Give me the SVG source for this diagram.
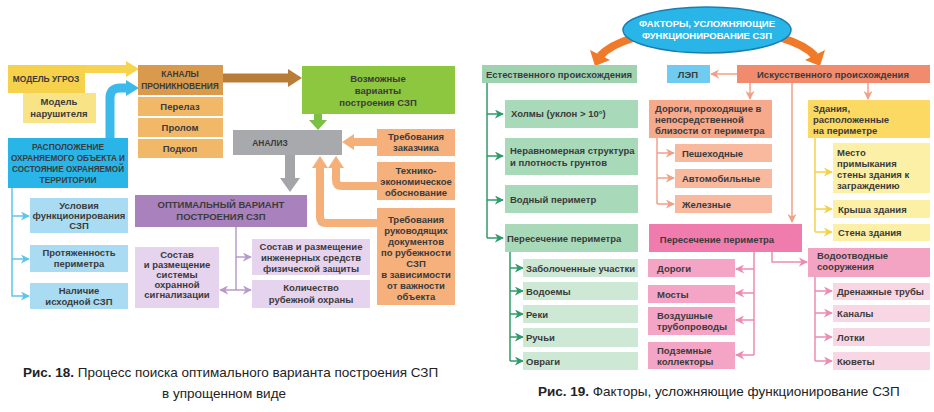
<svg xmlns="http://www.w3.org/2000/svg" width="934" height="412" viewBox="0 0 934 412">
<style>
text{font-family:"Liberation Sans",Arial,sans-serif;font-weight:bold;font-size:9.5px;fill:#3b3b3b;text-anchor:middle}
.l{text-anchor:start}
.w{fill:#fff}
.s{font-size:8.4px}
.cap{font-weight:normal;font-size:13.5px;fill:#222;text-anchor:start}
.ln{fill:none;stroke-width:1.5}
</style>
<defs>
<marker id="mb" viewBox="0 0 10 10" refX="9" refY="5" markerWidth="6" markerHeight="6" orient="auto"><path d="M0,0L10,5L0,10L3,5z" fill="#5cc5ea"/></marker>
<marker id="mp" viewBox="0 0 10 10" refX="9" refY="5" markerWidth="6" markerHeight="6" orient="auto"><path d="M0,0L10,5L0,10L3,5z" fill="#b79ac8"/></marker>
<marker id="mg" viewBox="0 0 10 10" refX="9" refY="5" markerWidth="6" markerHeight="6" orient="auto"><path d="M0,0L10,5L0,10L3,5z" fill="#2f9a6a"/></marker>
<marker id="ms" viewBox="0 0 10 10" refX="9" refY="5" markerWidth="6" markerHeight="6" orient="auto"><path d="M0,0L10,5L0,10L3,5z" fill="#f0a088"/></marker>
<marker id="my" viewBox="0 0 10 10" refX="9" refY="5" markerWidth="6" markerHeight="6" orient="auto"><path d="M0,0L10,5L0,10L3,5z" fill="#f3d24a"/></marker>
<marker id="mk" viewBox="0 0 10 10" refX="9" refY="5" markerWidth="6" markerHeight="6" orient="auto"><path d="M0,0L10,5L0,10L3,5z" fill="#ee8ab2"/></marker>
</defs>

<g id="connectors">
<path d="M85,69H128" stroke="#f7d34f" stroke-width="8" fill="none"/><path d="M126,61L139,69L126,77z" fill="#f7d34f"/>
<path d="M110,140V98Q110,88 120,88H128" stroke="#3ab9ea" stroke-width="9" fill="none"/><path d="M126,80L139,88L126,96z" fill="#3ab9ea"/>
<path d="M223,78H290" stroke="#b97d3a" stroke-width="9" fill="none"/><path d="M288,69L302,78L288,87z" fill="#b97d3a"/>
<path d="M318,114V121" stroke="#7bc043" stroke-width="8" fill="none"/><path d="M309,120L318,130L327,120z" fill="#7bc043"/>
<path d="M290,155V180" stroke="#a3a5a8" stroke-width="10" fill="none"/><path d="M280,178L290,192L300,178z" fill="#a3a5a8"/>
<path d="M377,142H352" stroke="#f5b07a" stroke-width="8" fill="none"/><path d="M354,134L342,142L354,150z" fill="#f5b07a"/>
<path d="M377,186H342Q336,186 336,180V166" stroke="#f5b07a" stroke-width="8" fill="none"/><path d="M328,168L336,156L344,168z" fill="#f5b07a"/>
<path d="M377,223H326Q320,223 320,217V166" stroke="#f5b07a" stroke-width="8" fill="none"/><path d="M312,168L320,156L328,168z" fill="#f5b07a"/>
<path class="ln" stroke="#5cc5ea" d="M12,188V296H29" marker-end="url(#mb)"/>
<path class="ln" stroke="#5cc5ea" d="M12,216H29" marker-end="url(#mb)"/><path class="ln" stroke="#5cc5ea" d="M12,259H29" marker-end="url(#mb)"/>
<path class="ln" stroke="#b79ac8" d="M236,226V290"/>
<path class="ln" stroke="#b79ac8" d="M236,257H251" marker-end="url(#mp)"/>
<path class="ln" stroke="#b79ac8" d="M236,290H251" marker-end="url(#mp)"/>
<path class="ln" stroke="#b79ac8" d="M236,290H220" marker-end="url(#mp)"/>
<path d="M633,38Q610,45 600,56" stroke="#f07a2a" stroke-width="8" fill="none"/><path d="M590,50L595,66L610,60z" fill="#f07a2a"/>
<path d="M782,38Q805,45 815,56" stroke="#f07a2a" stroke-width="8" fill="none"/><path d="M825,50L820,66L805,60z" fill="#f07a2a"/>
<path class="ln" stroke="#2f9a6a" d="M487,83V238"/>
<path class="ln" stroke="#2f9a6a" d="M487,114H503" marker-end="url(#mg)"/>
<path class="ln" stroke="#2f9a6a" d="M487,156H503" marker-end="url(#mg)"/>
<path class="ln" stroke="#2f9a6a" d="M487,200H503" marker-end="url(#mg)"/>
<path class="ln" stroke="#2f9a6a" d="M487,238H503" marker-end="url(#mg)"/>
<path class="ln" stroke="#2f9a6a" d="M510,252V361"/>
<path class="ln" stroke="#2f9a6a" d="M510,268H523" marker-end="url(#mg)"/>
<path class="ln" stroke="#2f9a6a" d="M510,291H523" marker-end="url(#mg)"/>
<path class="ln" stroke="#2f9a6a" d="M510,314H523" marker-end="url(#mg)"/>
<path class="ln" stroke="#2f9a6a" d="M510,337H523" marker-end="url(#mg)"/>
<path class="ln" stroke="#2f9a6a" d="M510,361H523" marker-end="url(#mg)"/>
<path class="ln" stroke="#f0a088" d="M737,74H711" marker-end="url(#ms)"/>
<path class="ln" stroke="#f0a088" d="M750,83V99" marker-end="url(#ms)"/>
<path class="ln" stroke="#f0a088" d="M868,83V99" marker-end="url(#ms)"/>
<path class="ln" stroke="#f0a088" d="M792,83V222" marker-end="url(#ms)"/>
<path class="ln" stroke="#f0a088" d="M657,138V204"/>
<path class="ln" stroke="#f0a088" d="M657,153H674" marker-end="url(#ms)"/>
<path class="ln" stroke="#f0a088" d="M657,178H674" marker-end="url(#ms)"/>
<path class="ln" stroke="#f0a088" d="M657,204H674" marker-end="url(#ms)"/>
<path class="ln" stroke="#f3d24a" d="M815,138V232"/>
<path class="ln" stroke="#f3d24a" d="M815,172H832" marker-end="url(#my)"/>
<path class="ln" stroke="#f3d24a" d="M815,209H832" marker-end="url(#my)"/>
<path class="ln" stroke="#f3d24a" d="M815,232H832" marker-end="url(#my)"/>
<path class="ln" stroke="#ee8ab2" d="M772,252V262H807" marker-end="url(#mk)"/>
<path class="ln" stroke="#ee8ab2" d="M754,252V355"/>
<path class="ln" stroke="#ee8ab2" d="M754,269H736" marker-end="url(#mk)"/>
<path class="ln" stroke="#ee8ab2" d="M754,293H736" marker-end="url(#mk)"/>
<path class="ln" stroke="#ee8ab2" d="M754,320H736" marker-end="url(#mk)"/>
<path class="ln" stroke="#ee8ab2" d="M754,355H736" marker-end="url(#mk)"/>
<path class="ln" stroke="#ee8ab2" d="M815,277V361"/>
<path class="ln" stroke="#ee8ab2" d="M815,291H832" marker-end="url(#mk)"/>
<path class="ln" stroke="#ee8ab2" d="M815,313H832" marker-end="url(#mk)"/>
<path class="ln" stroke="#ee8ab2" d="M815,337H832" marker-end="url(#mk)"/>
<path class="ln" stroke="#ee8ab2" d="M815,361H832" marker-end="url(#mk)"/>
</g>

<g id="n-ugroz"><rect x="8" y="65" width="77" height="28" fill="#f6d24c"/><text class="s" x="46" y="82">МОДЕЛЬ УГРОЗ</text></g>
<g id="n-narush"><rect x="23" y="93" width="73" height="30" fill="#f9e387"/><text x="59" y="105">Модель</text><text x="59" y="117">нарушителя</text></g>
<g id="n-kanaly"><rect x="138" y="65" width="85" height="30" fill="#d99a4e"/><text class="s" x="180" y="77">КАНАЛЫ</text><text class="s" x="180" y="89">ПРОНИКНОВЕНИЯ</text></g>
<g id="n-perelaz"><rect x="138" y="97" width="85" height="19" fill="#f1b868"/><text x="180" y="110">Перелаз</text></g>
<g id="n-prolom"><rect x="138" y="118" width="85" height="19" fill="#f1b868"/><text x="180" y="131">Пролом</text></g>
<g id="n-podkop"><rect x="138" y="139" width="85" height="19" fill="#f1b868"/><text x="180" y="152">Подкоп</text></g>
<g id="n-vozm"><rect x="302" y="66" width="153" height="48" fill="#8dc63f"/><text x="378" y="82">Возможные</text><text x="378" y="94">варианты</text><text x="378" y="106">построения СЗП</text></g>
<g id="n-analiz"><rect x="233" y="130" width="109" height="25" fill="#a7a9ac"/><text class="s" x="270" y="146">АНАЛИЗ</text></g>
<g id="n-raspol"><rect x="8" y="138" width="120" height="50" fill="#29b5e8"/><text class="s" x="68" y="150">РАСПОЛОЖЕНИЕ</text><text class="s" x="68" y="161" textLength="114" lengthAdjust="spacingAndGlyphs">ОХРАНЯЕМОГО ОБЪЕКТА И</text><text class="s" x="68" y="172" textLength="112" lengthAdjust="spacingAndGlyphs">СОСТОЯНИЕ ОХРАНЯЕМОЙ</text><text class="s" x="68" y="183">ТЕРРИТОРИИ</text></g>
<g id="n-uslov"><rect x="30" y="198" width="98" height="35" fill="#a9dcf3"/><text x="79" y="209">Условия</text><text x="79" y="219">функционирования</text><text x="79" y="229">СЗП</text></g>
<g id="n-protyazh"><rect x="30" y="245" width="98" height="27" fill="#a9dcf3"/><text x="79" y="256">Протяженность</text><text x="79" y="267">периметра</text></g>
<g id="n-nalich"><rect x="30" y="283" width="98" height="26" fill="#a9dcf3"/><text x="79" y="294">Наличие</text><text x="79" y="305">исходной СЗП</text></g>
<g id="n-optim"><rect x="135" y="195" width="172" height="32" fill="#a982bd"/><text x="221" y="208">ОПТИМАЛЬНЫЙ ВАРИАНТ</text><text x="221" y="220">ПОСТРОЕНИЯ СЗП</text></g>
<g id="n-sost1"><rect x="135" y="247" width="84" height="61" fill="#e6d3ee"/><text x="177" y="258">Состав</text><text x="177" y="268">и размещение</text><text x="177" y="278">системы</text><text x="177" y="288">охранной</text><text x="177" y="298">сигнализации</text></g>
<g id="n-sost2"><rect x="252" y="239" width="118" height="36" fill="#e6d3ee"/><text x="311" y="250">Состав и размещение</text><text x="311" y="261">инженерных средств</text><text x="311" y="272">физической защиты</text></g>
<g id="n-kolich"><rect x="252" y="280" width="118" height="28" fill="#e6d3ee"/><text x="311" y="291">Количество</text><text x="311" y="303">рубежной охраны</text></g>
<g id="n-treb1"><rect x="377" y="129" width="78" height="27" fill="#f6b07b"/><text x="416" y="140">Требования</text><text x="416" y="151">заказчика</text></g>
<g id="n-tekh"><rect x="377" y="162" width="78" height="38" fill="#f6b07b"/><text x="416" y="174">Технико-</text><text x="416" y="185">экономическое</text><text x="416" y="196">обоснование</text></g>
<g id="n-treb2"><rect x="377" y="208" width="78" height="97" fill="#f6b07b"/><text x="416" y="223">Требования</text><text x="416" y="234">руководящих</text><text x="416" y="245">документов</text><text x="416" y="256">по рубежности</text><text x="416" y="267">СЗП</text><text x="416" y="278">в зависимости</text><text x="416" y="289">от важности</text><text x="416" y="300">объекта</text></g>
<text class="cap" x="23" y="377"><tspan font-weight="bold">Рис. 18.</tspan> Процесс поиска оптимального варианта построения СЗП</text>
<text class="cap" x="162" y="398">в упрощенном виде</text>

<g id="n-factors"><ellipse cx="707" cy="30" rx="84" ry="23" fill="#29b5e8" stroke="#1a7fb0" stroke-width="1.5"/><text class="w" x="707" y="27">ФАКТОРЫ, УСЛОЖНЯЮЩИЕ</text><text class="w" x="707" y="39">ФУНКЦИОНИРОВАНИЕ СЗП</text></g>
<g id="n-estest"><rect x="482" y="65" width="155" height="18" fill="#9fd3b0"/><text x="559" y="78">Естественного происхождения</text></g>
<g id="n-holmy"><rect x="505" y="100" width="133" height="28" fill="#a8d9b9"/><text class="l" x="511" y="117">Холмы (уклон &gt; 10°)</text></g>
<g id="n-nerav"><rect x="505" y="138" width="133" height="37" fill="#a8d9b9"/><text class="l" x="510" y="154">Неравномерная структура</text><text class="l" x="510" y="166">и плотность грунтов</text></g>
<g id="n-vodn"><rect x="505" y="185" width="133" height="28" fill="#a8d9b9"/><text class="l" x="510" y="203">Водный периметр</text></g>
<g id="n-peres1"><rect x="505" y="224" width="133" height="28" fill="#a8d9b9"/><text class="l" x="507" y="242">Пересечение периметра</text></g>
<g id="n-zabol"><rect x="523" y="259" width="115" height="18" fill="#cde9d6"/><text class="l" x="526" y="272">Заболоченные участки</text></g>
<g id="n-vodoem"><rect x="523" y="282" width="115" height="18" fill="#cde9d6"/><text class="l" x="526" y="295">Водоемы</text></g>
<g id="n-reki"><rect x="523" y="305" width="115" height="18" fill="#cde9d6"/><text class="l" x="526" y="318">Реки</text></g>
<g id="n-ruchi"><rect x="523" y="328" width="115" height="19" fill="#cde9d6"/><text class="l" x="526" y="341">Ручьи</text></g>
<g id="n-ovragi"><rect x="523" y="352" width="115" height="18" fill="#cde9d6"/><text class="l" x="526" y="365">Овраги</text></g>
<g id="n-lep"><rect x="667" y="65" width="43" height="18" fill="#6fcbef"/><text x="688" y="78">ЛЭП</text></g>
<g id="n-iskus"><rect x="737" y="65" width="193" height="18" fill="#f08b6e"/><text x="833" y="78">Искусственного происхождения</text></g>
<g id="n-dorogi1"><rect x="649" y="100" width="123" height="38" fill="#f6a98b"/><text class="l" x="655" y="112">Дороги, проходящие в</text><text class="l" x="655" y="123">непосредственной</text><text class="l" x="655" y="134">близости от периметра</text></g>
<g id="n-pesh"><rect x="675" y="144" width="97" height="18" fill="#f8b99f"/><text class="l" x="682" y="157">Пешеходные</text></g>
<g id="n-avto"><rect x="675" y="169" width="97" height="19" fill="#f8b99f"/><text class="l" x="682" y="182">Автомобильные</text></g>
<g id="n-zhel"><rect x="675" y="195" width="97" height="18" fill="#f8b99f"/><text class="l" x="682" y="208">Железные</text></g>
<g id="n-zdan"><rect x="808" y="100" width="122" height="38" fill="#fbd962"/><text class="l" x="813" y="112">Здания,</text><text class="l" x="813" y="123">расположенные</text><text class="l" x="813" y="134">на периметре</text></g>
<g id="n-mesto"><rect x="833" y="143" width="97" height="50" fill="#fcf0a6"/><text class="l" x="837" y="156">Место</text><text class="l" x="837" y="167">примыкания</text><text class="l" x="837" y="178">стены здания к</text><text class="l" x="837" y="189">заграждению</text></g>
<g id="n-krysha"><rect x="833" y="200" width="97" height="18" fill="#fcf0a6"/><text class="l" x="838" y="213">Крыша здания</text></g>
<g id="n-stena"><rect x="833" y="224" width="97" height="17" fill="#fcf0a6"/><text class="l" x="838" y="236">Стена здания</text></g>
<g id="n-peres2"><rect x="649" y="224" width="153" height="28" fill="#f07cae"/><text x="717" y="243">Пересечение периметра</text></g>
<g id="n-vodootv"><rect x="808" y="248" width="122" height="29" fill="#f4a4c3"/><text class="l" x="817" y="259">Водоотводные</text><text class="l" x="817" y="270">сооружения</text></g>
<g id="n-dorogi2"><rect x="648" y="259" width="87" height="18" fill="#f4a4c4"/><text class="l" x="657" y="272">Дороги</text></g>
<g id="n-mosty"><rect x="648" y="285" width="87" height="18" fill="#f4a4c4"/><text class="l" x="657" y="298">Мосты</text></g>
<g id="n-vozd"><rect x="648" y="307" width="87" height="28" fill="#f4a4c4"/><text class="l" x="657" y="319">Воздушные</text><text class="l" x="657" y="330">трубопроводы</text></g>
<g id="n-podz"><rect x="648" y="342" width="87" height="27" fill="#f4a4c4"/><text class="l" x="657" y="354">Подземные</text><text class="l" x="657" y="365">коллекторы</text></g>
<g id="n-dren"><rect x="833" y="283" width="97" height="17" fill="#f9d6e4"/><text class="l" x="837" y="295">Дренажные трубы</text></g>
<g id="n-kanaly2"><rect x="833" y="305" width="97" height="17" fill="#f9d6e4"/><text class="l" x="837" y="317">Каналы</text></g>
<g id="n-lotki"><rect x="833" y="328" width="97" height="18" fill="#f9d6e4"/><text class="l" x="837" y="341">Лотки</text></g>
<g id="n-kyuv"><rect x="833" y="352" width="97" height="18" fill="#f9d6e4"/><text class="l" x="837" y="365">Кюветы</text></g>
<text class="cap" x="538" y="396"><tspan font-weight="bold">Рис. 19.</tspan> Факторы, усложняющие функционирование СЗП</text>
</svg>
